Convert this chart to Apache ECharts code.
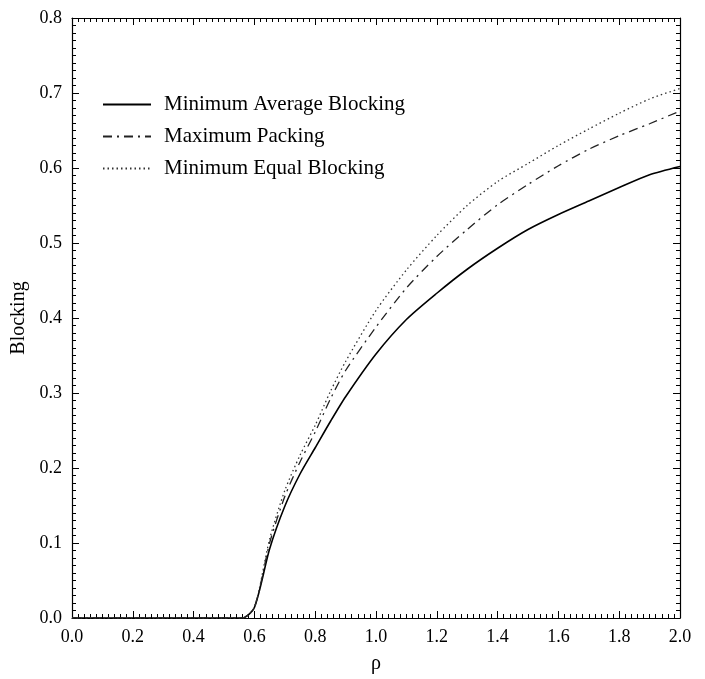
<!DOCTYPE html>
<html>
<head>
<meta charset="utf-8">
<script src="https://cdn.jsdelivr.net/npm/echarts@6/dist/echarts.min.js"></script>
<style>
  html, body { margin: 0; padding: 0; background: #fff; }
  #chart { width: 705px; height: 679px; }
</style>
</head>
<body>
<div id="chart"></div>
<script>
// rho values (x axis)
var rho = [0.0, 0.2, 0.4, 0.56, 0.6, 0.65, 0.7, 0.75, 0.8, 0.85, 0.9, 1.0, 1.1, 1.2, 1.3, 1.4, 1.5, 1.6, 1.7, 1.8, 1.9, 2.0];

var minAvgBlocking   = [0, 0, 0, 0, 0.014, 0.092, 0.149, 0.192, 0.227, 0.262, 0.295, 0.352, 0.398, 0.433, 0.465, 0.493, 0.518, 0.538, 0.556, 0.574, 0.591, 0.602];
var maxPacking       = [0, 0, 0, 0, 0.014, 0.100, 0.162, 0.208, 0.248, 0.292, 0.330, 0.388, 0.440, 0.482, 0.518, 0.551, 0.578, 0.603, 0.625, 0.643, 0.659, 0.676];
var minEqualBlocking = [0, 0, 0, 0, 0.014, 0.105, 0.170, 0.217, 0.257, 0.302, 0.342, 0.410, 0.464, 0.510, 0.550, 0.582, 0.606, 0.630, 0.652, 0.673, 0.692, 0.706];

var names = ['Minimum Average Blocking', 'Maximum Packing', 'Minimum Equal Blocking'];

var serif = "'Liberation Serif', 'Times New Roman', serif";

function pairs(ys) {
  var out = [];
  for (var i = 0; i < rho.length; i++) out.push([rho[i], ys[i]]);
  return out;
}

var chart = echarts.init(document.getElementById('chart'));

function axisBase(extra) {
  var a = {
    type: 'value',
    axisLine: { show: true, onZero: false, lineStyle: { color: '#000', width: 1.2 } },
    axisTick: { show: true, inside: true, length: 7, lineStyle: { color: '#000', width: 1 } },
    minorTick: { show: true, splitNumber: 10, length: 4, lineStyle: { color: '#000', width: 1 } },
    splitLine: { show: false },
    axisLabel: { show: false }
  };
  for (var k in extra) a[k] = extra[k];
  return a;
}

chart.setOption({
  animation: false,
  backgroundColor: '#fff',
  grid: { left: 72, right: 25, top: 18, bottom: 56 },
  legend: {
    orient: 'vertical',
    left: 97,
    top: 89,
    itemWidth: 48,
    itemHeight: 14,
    itemGap: 11,
    data: names,
    itemStyle: { opacity: 0 },
    textStyle: { fontFamily: serif, fontSize: 21, color: '#000', padding: [0, 0, 0, 8] }
  },
  xAxis: [
    axisBase({
      min: 0, max: 2, interval: 0.2,
      name: 'ρ',
      nameLocation: 'middle',
      nameGap: 36,
      nameTextStyle: { fontFamily: serif, fontSize: 20, color: '#000' },
      axisLabel: {
        show: true, margin: 10, color: '#000', fontFamily: serif, fontSize: 18,
        formatter: function (v) { return v.toFixed(1); }
      }
    }),
    axisBase({ min: 0, max: 2, interval: 0.2, position: 'top' })
  ],
  yAxis: [
    axisBase({
      min: 0, max: 0.8, interval: 0.1,
      name: 'Blocking',
      nameLocation: 'middle',
      nameGap: 41,
      nameTextStyle: { fontFamily: serif, fontSize: 20, color: '#000' },
      axisLabel: {
        show: true, margin: 10, color: '#000', fontFamily: serif, fontSize: 18,
        formatter: function (v) { return v.toFixed(1); }
      }
    }),
    axisBase({ min: 0, max: 0.8, interval: 0.1, position: 'right' })
  ],
  series: [
    {
      name: names[0], type: 'line', symbol: 'none', smooth: 0.25,
      data: pairs(minAvgBlocking),
      lineStyle: { color: '#000', width: 1.6, type: 'solid' },
      itemStyle: { color: '#000' }
    },
    {
      name: names[1], type: 'line', symbol: 'none', smooth: 0.25,
      data: pairs(maxPacking),
      lineStyle: { color: '#222', width: 1.3, type: [9, 5, 2, 5] },
      itemStyle: { color: '#222' }
    },
    {
      name: names[2], type: 'line', symbol: 'none', smooth: 0.25,
      data: pairs(minEqualBlocking),
      lineStyle: { color: '#333', width: 1.3, type: [1.5, 3] },
      itemStyle: { color: '#333' }
    }
  ]
});
</script>
</body>
</html>
